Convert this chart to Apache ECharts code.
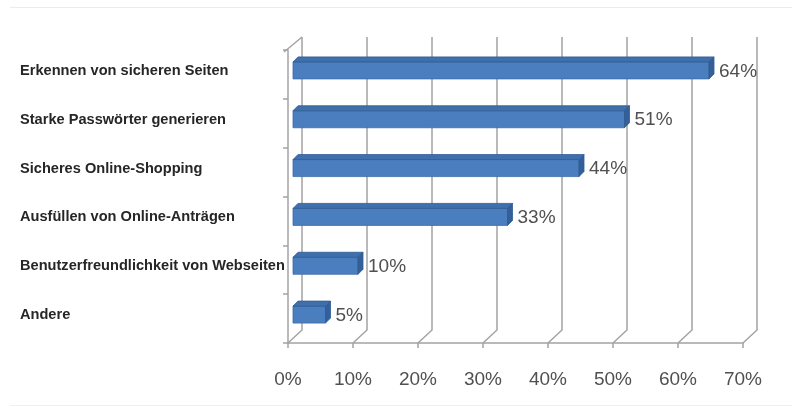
<!DOCTYPE html>
<html>
<head>
<meta charset="utf-8">
<script src="https://cdn.jsdelivr.net/npm/echarts@6/dist/echarts.min.js"></script>
<style>
html,body{margin:0;padding:0;background:#fff;}
#chart{width:798px;height:414px;}
</style>
</head>
<body>
<div id="chart"></div>
<script>
const categories = [
  'Erkennen von sicheren Seiten',
  'Starke Passwörter generieren',
  'Sicheres Online-Shopping',
  'Ausfüllen von Online-Anträgen',
  'Benutzerfreundlichkeit von Webseiten',
  'Andere'
];
const values = [64, 51, 44, 33, 10, 5];
const tickValues = [0, 10, 20, 30, 40, 50, 60, 70];

const chart = echarts.init(document.getElementById('chart'));
const lineColor = '#a3a3a3';
const DEPTH_X = 14, DEPTH_Y = 13;

const option = {
  backgroundColor: '#ffffff',
  animation: false,
  grid: { left: 288, right: 55, top: 50, bottom: 71, containLabel: false },
  graphic: [
    { type: 'line', shape: { x1: 10, y1: 7.5, x2: 792, y2: 7.5 }, style: { stroke: '#ececec', lineWidth: 1 } },
    { type: 'line', shape: { x1: 10, y1: 405.5, x2: 792, y2: 405.5 }, style: { stroke: '#f0f0f0', lineWidth: 1 } }
  ],
  xAxis: {
    type: 'value',
    min: 0, max: 70, interval: 10,
    axisLine: { show: true, lineStyle: { color: lineColor, width: 1.5 } },
    axisTick: { show: true, length: 5, lineStyle: { color: lineColor, width: 1.5 } },
    splitLine: { show: false },
    axisLabel: {
      formatter: '{value}%', fontSize: 19, color: '#505050', margin: 27,
      fontFamily: 'Liberation Sans, Arial, sans-serif'
    }
  },
  yAxis: {
    type: 'category',
    data: categories,
    inverse: true,
    axisLine: { show: true, lineStyle: { color: lineColor, width: 1.5 } },
    axisTick: { show: true, length: 5, lineStyle: { color: lineColor, width: 1.5 } },
    axisLabel: {
      align: 'left', margin: 268,
      formatter: function (v) { return '{a|' + v + '}'; },
      rich: {
        a: {
          fontSize: 14.6, fontWeight: 'bold', color: '#262626',
          fontFamily: 'Liberation Sans, Arial, sans-serif', padding: [0, 0, 7, 0]
        }
      }
    }
  },
  series: [
    {
      type: 'custom',
      z: 1,
      data: tickValues.map(v => [v, 0]),
      encode: { x: 0, y: 1 },
      silent: true,
      renderItem: function (params, api) {
        const cs = params.coordSys;
        const px = api.coord([api.value(0), 0])[0];
        const yb = cs.y + cs.height;
        const children = [{
          type: 'polyline',
          shape: { points: [[px, yb], [px + DEPTH_X, yb - DEPTH_Y], [px + DEPTH_X, cs.y - DEPTH_Y]] },
          style: { stroke: lineColor, lineWidth: 1.5, fill: null }
        }];
        if (api.value(0) === 0) {
          children.push({
            type: 'line',
            shape: { x1: cs.x - 4, y1: cs.y + 2, x2: cs.x + DEPTH_X, y2: cs.y - DEPTH_Y },
            style: { stroke: lineColor, lineWidth: 1.5 }
          });
        }
        return { type: 'group', children: children };
      }
    },
    {
      type: 'custom',
      z: 3,
      data: values.map((v, i) => [v, i]),
      encode: { x: 0, y: 1 },
      renderItem: function (params, api) {
        const s = api.coord([0, api.value(1)]);
        const e = api.coord([api.value(0), api.value(1)]);
        const dx = 5, dy = -4, h = 17, d = 5;
        const x = s[0] + dx, y = s[1] + dy - h / 2, w = e[0] - s[0];
        return {
          type: 'group',
          children: [
            { type: 'rect', shape: { x: x, y: y, width: w, height: h },
              style: { fill: '#4a7ebf', stroke: '#3d6ca6', lineWidth: 0.8 } },
            { type: 'polygon', shape: { points: [[x, y], [x + d, y - d], [x + w + d, y - d], [x + w, y]] },
              style: { fill: '#3f70ad', stroke: '#2f5b91', lineWidth: 0.8 } },
            { type: 'polygon', shape: { points: [[x + w, y], [x + w + d, y - d], [x + w + d, y + h - d], [x + w, y + h]] },
              style: { fill: '#33609a', stroke: '#2f5b91', lineWidth: 0.8 } },
            { type: 'text', x: x + w + d + 5, y: y + h / 2 + 1,
              style: { text: api.value(0) + '%', fill: '#505050', fontSize: 19,
                fontFamily: 'Liberation Sans, Arial, sans-serif', verticalAlign: 'middle', align: 'left' } }
          ]
        };
      }
    }
  ]
};
chart.setOption(option);
</script>
</body>
</html>
